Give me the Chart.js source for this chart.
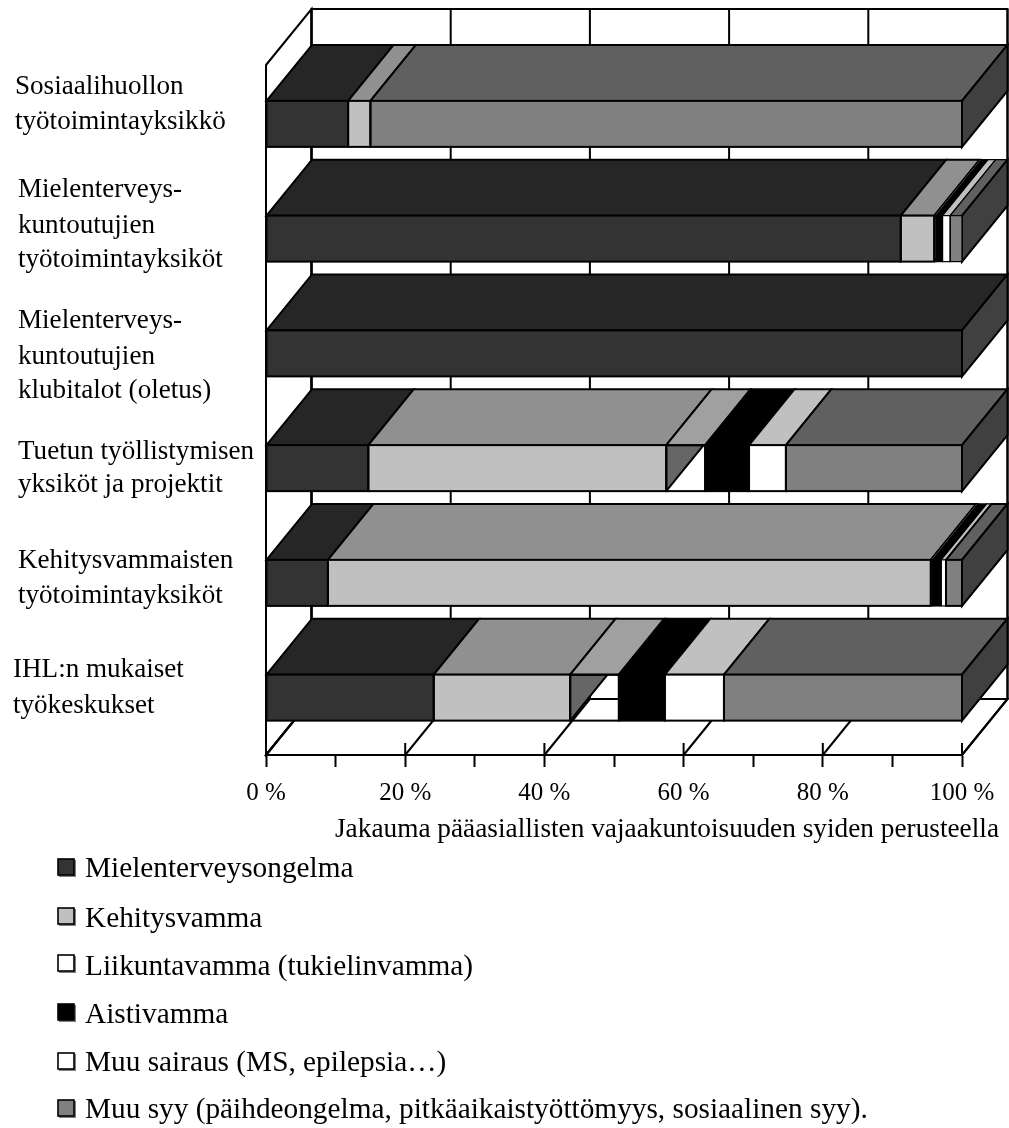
<!DOCTYPE html>
<html lang="fi">
<head>
<meta charset="utf-8">
<title>Jakauma pääasiallisten vajaakuntoisuuden syiden perusteella</title>
<script src="https://cdn.jsdelivr.net/npm/chart.js@4"></script>
<style>html,body{margin:0;padding:0;background:#fff}canvas{display:block}</style>
</head>
<body>
<canvas id="chart" width="1009" height="1128"></canvas>
<script>
const categories = [
  ["Sosiaalihuollon", "työtoimintayksikkö"],
  ["Mielenterveys-", "kuntoutujien", "työtoimintayksiköt"],
  ["Mielenterveys-", "kuntoutujien", "klubitalot (oletus)"],
  ["Tuetun työllistymisen", "yksiköt ja projektit"],
  ["Kehitysvammaisten", "työtoimintayksiköt"],
  ["IHL:n mukaiset", "työkeskukset"]
];
const seriesNames = [
  "Mielenterveysongelma",
  "Kehitysvamma",
  "Liikuntavamma (tukielinvamma)",
  "Aistivamma",
  "Muu sairaus (MS, epilepsia…)",
  "Muu syy (päihdeongelma, pitkäaikaistyöttömyys, sosiaalinen syy)."
];
const mielenterveysongelma = [11.8, 91.2, 100, 14.7, 8.9, 24.1];
const kehitysvamma         = [3.2, 4.8, 0, 42.8, 86.6, 19.6];
const liikuntavamma        = [0, 0.3, 0, 5.6, 0.3, 7.0];
const aistivamma           = [0, 0.9, 0, 6.3, 1.2, 6.6];
const muuSairaus           = [0, 1.1, 0, 5.3, 0.7, 8.5];
const muuSyy               = [85.0, 1.7, 0, 25.3, 2.3, 34.2];
const seriesValues = [mielenterveysongelma, kehitysvamma, liikuntavamma, aistivamma, muuSairaus, muuSyy];
const xAxisTitle = "Jakauma pääasiallisten vajaakuntoisuuden syiden perusteella";

/* styles */
const frontColors = ["#333333", "#c0c0c0", "rgba(0,0,0,0)", "#000000", "#ffffff", "#808080"];
const topColors   = ["#262626", "#909090", "#a0a0a0", "#000000", "#c0c0c0", "#606060"];
const legendColors = ["#333333", "#c0c0c0", "#ffffff", "#000000", "#ffffff", "#808080"];
const endColor = "#404040", innerSideColor = "#666666";
const DX = 45.5, DY = -56, WALL_EXTRA = 1.5;
const FONT = '"Liberation Serif", "Times New Roman", serif';
const fontPx = 27.1, titleFontPx = 27.3, tickFontPx = 25, legendFontPx = 29.3;
/* baseline of every label line, relative to its category centre */
const labelLayout = [
  {x: 15, dy: [-30, 5.5]},
  {x: 18, dy: [-42, -6, 28]},
  {x: 18, dy: [-25, 10.5, 44.5]},
  {x: 18, dy: [-9.5, 23.5]},
  {x: 18, dy: [-15, 20]},
  {x: 13, dy: [-21, 15]}
];
const legendLayout = {
  swatchX: 58, swatchSize: 16, textX: 85,
  swatchTops: [859, 908, 955, 1004, 1053, 1100],
  baselines: [877, 927, 975, 1023, 1071, 1118]
};

function poly(ctx, pts, fill, stroke, lw) {
  ctx.beginPath();
  pts.forEach((p, i) => i ? ctx.lineTo(p[0], p[1]) : ctx.moveTo(p[0], p[1]));
  ctx.closePath();
  if (fill) { ctx.fillStyle = fill; ctx.fill(); }
  if (stroke) { ctx.strokeStyle = stroke; ctx.lineWidth = lw || 2; ctx.stroke(); }
}
function seg(ctx, a, b, c, d) {
  ctx.beginPath(); ctx.moveTo(a, b); ctx.lineTo(c, d); ctx.stroke();
}

const bars3d = {
  id: "bars3d",
  beforeDatasetsDraw(chart) {
    const ctx = chart.ctx, xs = chart.scales.x, a = chart.chartArea;
    const l = a.left, r = a.right, t = a.top - WALL_EXTRA, b = a.bottom;
    ctx.save();
    ctx.strokeStyle = "#000"; ctx.lineWidth = 2; ctx.lineJoin = "miter";
    /* walls and floor */
    poly(ctx, [[l+DX, t+DY], [r+DX, t+DY], [r+DX, b+DY], [l+DX, b+DY]], null, "#000", 2);
    poly(ctx, [[l, t], [l+DX, t+DY], [l+DX, b+DY], [l, b]], null, "#000", 2);
    poly(ctx, [[l, b], [l+DX, b+DY], [r+DX, b+DY], [r, b]], null, "#000", 2);
    xs.ticks.forEach(tk => {
      if (tk.value % 20 !== 0) return;
      const x = xs.getPixelForValue(tk.value);
      seg(ctx, x+DX, t+DY, x+DX, b+DY);
      seg(ctx, x, b, x+DX, b+DY);
      if (tk.value > 0) seg(ctx, x, b-12, x, b);
    });
    /* top and side faces, from each bar element */
    categories.forEach((_, row) => {
      let last = null;
      seriesValues.forEach((vals, s) => {
        if (!vals[row]) return;
        const el = chart.getDatasetMeta(s).data[row];
        const x0 = el.base, x1 = el.x, y0 = el.y - el.height/2, y1 = el.y + el.height/2;
        const thin = (x1 - x0) < 14;
        poly(ctx, [[x0, y0], [x0+DX, y0+DY], [x1+DX, y0+DY], [x1, y0]], topColors[s], "#000", thin ? 1.2 : 2);
        last = {x1, y0, y1};
        if (s === 2) {
          const w = (y1 - y0) / -DY * DX;
          ctx.save();
          ctx.beginPath(); ctx.rect(x0, y0, x1 - x0, y1 - y0); ctx.clip();
          poly(ctx, [[x0, y0], [x0+w, y0], [x0, y1]], innerSideColor, "#000", 2);
          ctx.restore();
        }
      });
      if (last) poly(ctx, [[last.x1, last.y0], [last.x1+DX, last.y0+DY], [last.x1+DX, last.y1+DY], [last.x1, last.y1]], endColor, "#000", 2);
    });
    ctx.restore();
  },
  afterDatasetsDraw(chart) {
    const ctx = chart.ctx;
    ctx.save();
    categories.forEach((_, row) => {
      seriesValues.forEach((vals, s) => {
        if (!vals[row]) return;
        const el = chart.getDatasetMeta(s).data[row];
        const x0 = el.base, x1 = el.x, y0 = el.y - el.height/2, y1 = el.y + el.height/2;
        ctx.strokeStyle = "#000";
        ctx.lineWidth = (x1 - x0) < 14 ? 1.2 : 2;
        ctx.strokeRect(x0, y0, x1 - x0, y1 - y0);
      });
    });
    ctx.restore();
  },
  afterDraw(chart) {
    const ctx = chart.ctx, ys = chart.scales.y;
    ctx.save();
    ctx.fillStyle = "#000"; ctx.textBaseline = "alphabetic"; ctx.textAlign = "left";
    ctx.font = fontPx + "px " + FONT;
    categories.forEach((lines, i) => {
      const c = ys.getPixelForTick(i);
      lines.forEach((ln, k) => ctx.fillText(ln, labelLayout[i].x, c + labelLayout[i].dy[k]));
    });
    ctx.font = titleFontPx + "px " + FONT;
    ctx.fillText(xAxisTitle, 335, 837);
    ctx.font = legendFontPx + "px " + FONT;
    seriesNames.forEach((name, s) => {
      const sz = legendLayout.swatchSize, x = legendLayout.swatchX, y = legendLayout.swatchTops[s];
      ctx.fillStyle = "#808080"; ctx.fillRect(x + 1, y + 1, sz + 1, sz + 1);
      ctx.fillStyle = legendColors[s]; ctx.fillRect(x, y, sz, sz);
      ctx.strokeStyle = "#000"; ctx.lineWidth = 1.6; ctx.strokeRect(x, y, sz, sz);
      ctx.fillStyle = "#000";
      ctx.fillText(name, legendLayout.textX, legendLayout.baselines[s]);
    });
    ctx.restore();
  }
};

new Chart(document.getElementById("chart"), {
  type: "bar",
  plugins: [bars3d],
  data: {
    labels: categories,
    datasets: seriesNames.map((name, s) => ({
      label: name,
      data: seriesValues[s],
      backgroundColor: frontColors[s],
      borderWidth: 0,
      barThickness: 46
    }))
  },
  options: {
    indexAxis: "y",
    responsive: false,
    animation: false,
    layout: {padding: {left: 0, top: 66.5, right: 47, bottom: 0}},
    plugins: {legend: {display: false}, title: {display: false}, tooltip: {enabled: false}},
    scales: {
      y: {
        stacked: true,
        ticks: {display: false},
        grid: {display: false},
        border: {display: false},
        afterFit: s => { s.width = 266; }
      },
      x: {
        stacked: true,
        min: 0, max: 100,
        afterFit: s => { s.height = 373; },
        ticks: {
          stepSize: 10, autoSkip: false, maxRotation: 0,
          color: "#000", padding: 11,
          font: {family: FONT, size: tickFontPx},
          callback: v => (v % 20 === 0 ? v + " %" : "")
        },
        grid: {drawOnChartArea: false, drawTicks: true, tickLength: 12, tickWidth: 2, tickColor: "#000"},
        border: {display: true, color: "#000", width: 2}
      }
    }
  }
});
</script>
</body>
</html>
